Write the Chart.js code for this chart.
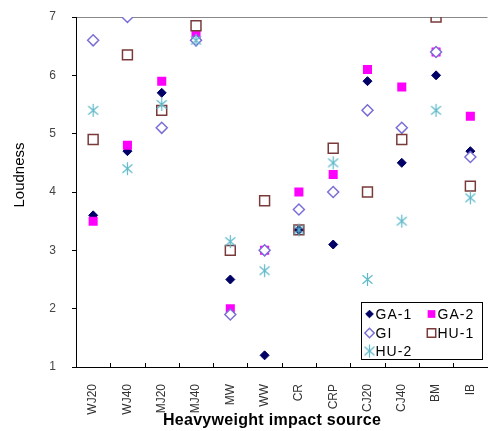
<!DOCTYPE html>
<html>
<head>
<meta charset="utf-8">
<script src="https://cdn.jsdelivr.net/npm/chart.js"></script>
<style>
  html, body { margin: 0; padding: 0; background: #fff; }
  #wrap { width: 488px; height: 431px; overflow: hidden; }
</style>
</head>
<body>
<div id="wrap"><canvas id="c" width="496" height="431"></canvas></div>
<script>
"use strict";
// categorias e valores
const sources = ['WJ20', 'WJ40', 'MJ20', 'MJ40', 'MW', 'WW', 'CR', 'CRP', 'CJ20', 'CJ40', 'BM', 'IB'];
const ga1 = [3.6, 4.7, 5.7, 6.6, 2.5, 1.2, 3.35, 3.1, 5.9, 4.5, 6.0, 4.7];
const ga2 = [3.5, 4.8, 5.9, 6.7, 2.0, 3.0, 4.0, 4.3, 6.1, 5.8, 6.4, 5.3];
const gi  = [6.6, 7.0, 5.1, 6.6, 1.9, 3.0, 3.7, 4.0, 5.4, 5.1, 6.4, 4.6];
const hu1 = [4.9, 6.35, 5.4, 6.85, 3.0, 3.85, 3.35, 4.75, 4.0, 4.9, 7.0, 4.1];
const hu2 = [5.4, 4.4, 5.5, 6.6, 3.15, 2.65, 3.35, 4.5, 2.5, 3.5, 5.4, 3.9];
const yMin = 1, yMax = 7;
const xTitle = 'Heavyweight impact source';
const yTitle = 'Loudness';

// asterisco de 6 pontas para HU-2
function makeAsterisk(color) {
  const s = 15, c = document.createElement('canvas');
  c.width = s; c.height = s;
  const g = c.getContext('2d');
  g.strokeStyle = color;
  g.lineWidth = 1.2;
  const r = 6.5, m = s / 2;
  [90, 40, 140].forEach(a => {
    const dx = Math.cos(a * Math.PI / 180) * r, dy = Math.sin(a * Math.PI / 180) * r;
    g.beginPath(); g.moveTo(m - dx, m - dy); g.lineTo(m + dx, m + dy); g.stroke();
  });
  return c;
}

const star = makeAsterisk('#5fb9c9');

const series = [
  { label: 'GA-1', data: ga1, pointStyle: 'rectRot', pointRadius: 4.5, backgroundColor: '#000066', borderColor: '#000066', pointBorderWidth: 1 },
  { label: 'GA-2', data: ga2, pointStyle: 'rect', pointRadius: 6.4, backgroundColor: '#ff00ff', borderColor: '#ff00ff', pointBorderWidth: 0 },
  { label: 'GI', data: gi, pointStyle: 'rectRot', pointRadius: 5.5, backgroundColor: '#ffffff', borderColor: '#7a6fd6', pointBorderWidth: 1.5 },
  { label: 'HU-1', data: hu1, pointStyle: 'rect', pointRadius: 7, backgroundColor: 'rgba(0,0,0,0)', borderColor: '#7a3a3a', pointBorderWidth: 1.5 },
  { label: 'HU-2', data: hu2, pointStyle: star, pointRadius: 7, backgroundColor: '#5fb9c9', borderColor: '#5fb9c9', pointBorderWidth: 1 }
];

// legenda dentro da área do gráfico, duas colunas
const legendBox = {
  id: 'legendBox',
  afterDatasetsDraw(chart) {
    const ctx = chart.ctx, a = chart.chartArea;
    const x = a.right - 127, y = a.bottom - 65, w = 121, h = 57;
    ctx.save();
    ctx.fillStyle = '#fff';
    ctx.fillRect(x, y, w, h);
    ctx.strokeStyle = '#000';
    ctx.lineWidth = 1;
    ctx.strokeRect(Math.round(x) + 0.5, Math.round(y) + 0.5, w, h);
    const place = [[0, 0], [1, 0], [0, 1], [1, 1], [0, 2]];
    const colX = [x + 9, x + 71], rowY = [y + 12, y + 31, y + 49];
    ctx.font = '14px Arial';
    ctx.letterSpacing = '1px';
    ctx.textBaseline = 'middle';
    series.forEach((s, i) => {
      const px = colX[place[i][0]], py = rowY[place[i][1]];
      ctx.fillStyle = s.backgroundColor;
      ctx.strokeStyle = s.borderColor;
      ctx.lineWidth = s.pointBorderWidth;
      Chart.helpers.drawPoint(ctx, {
        pointStyle: s.pointStyle,
        radius: s.pointRadius * 0.85,
        rotation: 0,
        borderWidth: s.pointBorderWidth
      }, px, py);
      ctx.fillStyle = '#000';
      ctx.fillText(s.label, px + 6, py + 1);
    });
    ctx.restore();
  }
};

// marcas internas no eixo x e títulos dos eixos
const axisExtras = {
  id: 'axisExtras',
  afterDraw(chart) {
    const ctx = chart.ctx, a = chart.chartArea, xs = chart.scales.x;
    ctx.save();
    ctx.strokeStyle = '#000';
    ctx.lineWidth = 1;
    for (let i = 1; i < sources.length; i++) {
      const bx = Math.round((xs.getPixelForValue(i - 1) + xs.getPixelForValue(i)) / 2) + 0.5;
      ctx.beginPath(); ctx.moveTo(bx, a.bottom); ctx.lineTo(bx, a.bottom - 4); ctx.stroke();
    }
    ctx.fillStyle = '#000';
    ctx.textAlign = 'center';
    ctx.textBaseline = 'middle';
    ctx.font = 'bold 16px Arial';
    ctx.letterSpacing = '0.3px';
    ctx.fillText(xTitle, 272, 421);
    ctx.letterSpacing = '0px';
    ctx.translate(20, 175);
    ctx.rotate(-Math.PI / 2);
    ctx.font = '15px Arial';
    ctx.fillText(yTitle, 0, 0);
    ctx.restore();
  }
};

new Chart(document.getElementById('c').getContext('2d'), {
  type: 'line',
  data: {
    labels: sources,
    datasets: series.map((s, i) => ({
      label: s.label,
      data: s.data,
      showLine: false,
      pointStyle: s.pointStyle,
      pointRadius: s.pointRadius,
      pointBackgroundColor: s.backgroundColor,
      pointBorderColor: s.borderColor,
      pointBorderWidth: s.pointBorderWidth,
      order: series.length - i
    }))
  },
  options: {
    responsive: false,
    animation: false,
    layout: { padding: { top: 17, right: 0, left: 0, bottom: 0 } },
    plugins: {
      legend: { display: false },
      tooltip: { enabled: false }
    },
    scales: {
      x: {
        type: 'category',
        offset: true,
        grid: { display: false },
        border: { display: true, color: '#000', width: 1 },
        ticks: {
          autoSkip: false, minRotation: 90, maxRotation: 90, padding: 9,
          color: '#333', font: { family: 'Arial', size: 12 }
        },
        afterFit(s) { s.height = 64; s.paddingLeft = 0; s.paddingRight = 0; }
      },
      y: {
        min: yMin, max: yMax,
        grid: {
          drawOnChartArea: true,
          color: ctx => (ctx.tick && ctx.tick.value === yMax) ? '#888' : 'rgba(0,0,0,0)',
          tickColor: '#000',
          tickLength: 4
        },
        border: { display: true, color: '#000', width: 1 },
        ticks: { stepSize: 1, padding: 16, color: '#444', font: { family: 'Arial', size: 12 } },
        afterFit(s) { s.width = 76; s.paddingTop = 0; s.paddingBottom = 0; }
      }
    }
  },
  plugins: [legendBox, axisExtras]
});
</script>
</body>
</html>
